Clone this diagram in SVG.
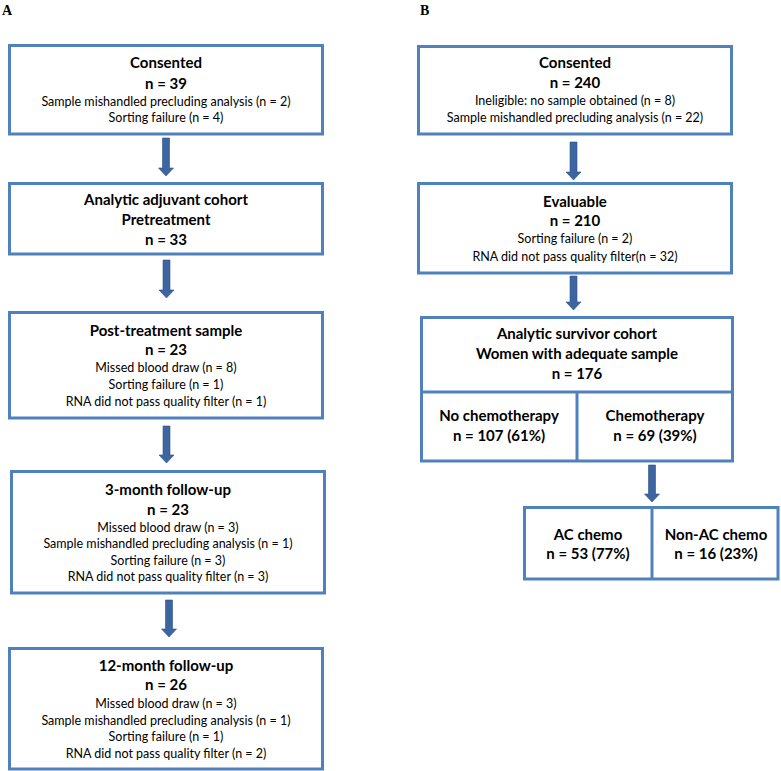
<svg xmlns="http://www.w3.org/2000/svg" width="781" height="771" viewBox="0 0 781 771">
<style>
.box{fill:#fff;stroke:#4F81BD;stroke-width:3}
.div{stroke:#4F81BD;stroke-width:3}
.arr{fill:#3D65A0;stroke:#2F5387;stroke-width:0.6}
text{font-family:Lato,"Open Sans","Liberation Sans",sans-serif;fill:#000;text-anchor:middle}
.h{font-weight:bold;font-size:15px}
.d{font-size:12.5px}
.lbl{font-family:"Liberation Serif","Times New Roman",serif;font-weight:bold;font-size:14px;text-anchor:start}
</style>
<rect width="781" height="771" fill="#fff"/>
<text class="lbl" x="2" y="15">A</text>
<text class="lbl" x="420" y="15">B</text>
<g id="connectors">
<polygon class="arr" points="162.5,138 169.5,138 169.5,168 173.5,168 166,176 158.5,168 162.5,168"/>
<polygon class="arr" points="163,260 170,260 170,290 174,290 166.5,298 159,290 163,290"/>
<polygon class="arr" points="163,426 170,426 170,455 174,455 166.5,463 159,455 163,455"/>
<polygon class="arr" points="165.5,600 172.5,600 172.5,629 176.5,629 169,637 161.5,629 165.5,629"/>
<polygon class="arr" points="570,142 577,142 577,172 581,172 573.5,180 566,172 570,172"/>
<polygon class="arr" points="570,276 577,276 577,302 581,302 573.5,310 566,302 570,302"/>
<polygon class="arr" points="648.5,465 655.5,465 655.5,494 659.5,494 652,502 644.5,494 648.5,494"/>
</g>
<g id="a1">
<rect class="box" x="9.5" y="45.5" width="313" height="88.5"/>
<text class="h" x="166" y="68">Consented</text>
<text class="h" x="166" y="89">n = 39</text>
<text class="d" x="166" y="106">Sample mishandled precluding analysis (n = 2)</text>
<text class="d" x="166" y="122">Sorting failure (n = 4)</text>
</g>
<g id="a2">
<rect class="box" x="9.5" y="183.5" width="313" height="70.5"/>
<text class="h" x="166" y="205">Analytic adjuvant cohort</text>
<text class="h" x="166" y="225">Pretreatment</text>
<text class="h" x="166" y="245">n = 33</text>
</g>
<g id="a3">
<rect class="box" x="9.5" y="312.5" width="313" height="105.5"/>
<text class="h" x="166" y="336">Post-treatment sample</text>
<text class="h" x="166" y="355">n = 23</text>
<text class="d" x="166" y="372">Missed blood draw (n = 8)</text>
<text class="d" x="166" y="389">Sorting failure (n = 1)</text>
<text class="d" x="166" y="406">RNA did not pass quality filter (n = 1)</text>
</g>
<g id="a4">
<rect class="box" x="11.5" y="471.5" width="313" height="121.5"/>
<text class="h" x="168" y="495">3-month follow-up</text>
<text class="h" x="168" y="515">n = 23</text>
<text class="d" x="168" y="532">Missed blood draw (n = 3)</text>
<text class="d" x="168" y="548">Sample mishandled precluding analysis (n = 1)</text>
<text class="d" x="168" y="565">Sorting failure (n = 3)</text>
<text class="d" x="168" y="581">RNA did not pass quality filter (n = 3)</text>
</g>
<g id="a5">
<rect class="box" x="9.5" y="648.5" width="313" height="120.5"/>
<text class="h" x="166" y="671">12-month follow-up</text>
<text class="h" x="166" y="690">n = 26</text>
<text class="d" x="166" y="708">Missed blood draw (n = 3)</text>
<text class="d" x="166" y="725">Sample mishandled precluding analysis (n = 1)</text>
<text class="d" x="166" y="741">Sorting failure (n = 1)</text>
<text class="d" x="166" y="758">RNA did not pass quality filter (n = 2)</text>
</g>
<g id="b1">
<rect class="box" x="418.5" y="46.5" width="313" height="87.5"/>
<text class="h" x="575" y="68">Consented</text>
<text class="h" x="575" y="88">n = 240</text>
<text class="d" x="575" y="105">Ineligible: no sample obtained (n = 8)</text>
<text class="d" x="575" y="122">Sample mishandled precluding analysis (n = 22)</text>
</g>
<g id="b2">
<rect class="box" x="418.5" y="183.5" width="313" height="89.5"/>
<text class="h" x="575" y="207">Evaluable</text>
<text class="h" x="575" y="226">n = 210</text>
<text class="d" x="575" y="243">Sorting failure (n = 2)</text>
<text class="d" x="575" y="261">RNA did not pass quality filter(n = 32)</text>
</g>
<g id="b3">
<rect class="box" x="421.5" y="317.5" width="311" height="143.5"/>
<line class="div" x1="421.5" y1="392" x2="732.5" y2="392"/>
<line class="div" x1="577" y1="392" x2="577" y2="461"/>
<text class="h" x="577" y="339">Analytic survivor cohort</text>
<text class="h" x="577" y="359">Women with adequate sample</text>
<text class="h" x="577" y="379">n = 176</text>
<text class="h" x="499" y="421">No chemotherapy</text>
<text class="h" x="499" y="441">n = 107 (61%)</text>
<text class="h" x="655" y="421">Chemotherapy</text>
<text class="h" x="655" y="441">n = 69 (39%)</text>
</g>
<g id="b4">
<rect class="box" x="524.5" y="507.5" width="253.5" height="71.5"/>
<line class="div" x1="652" y1="507.5" x2="652" y2="579"/>
<text class="h" x="588" y="540">AC chemo</text>
<text class="h" x="588" y="559">n = 53 (77%)</text>
<text class="h" x="716" y="540">Non-AC chemo</text>
<text class="h" x="716" y="559">n = 16 (23%)</text>
</g>
</svg>
